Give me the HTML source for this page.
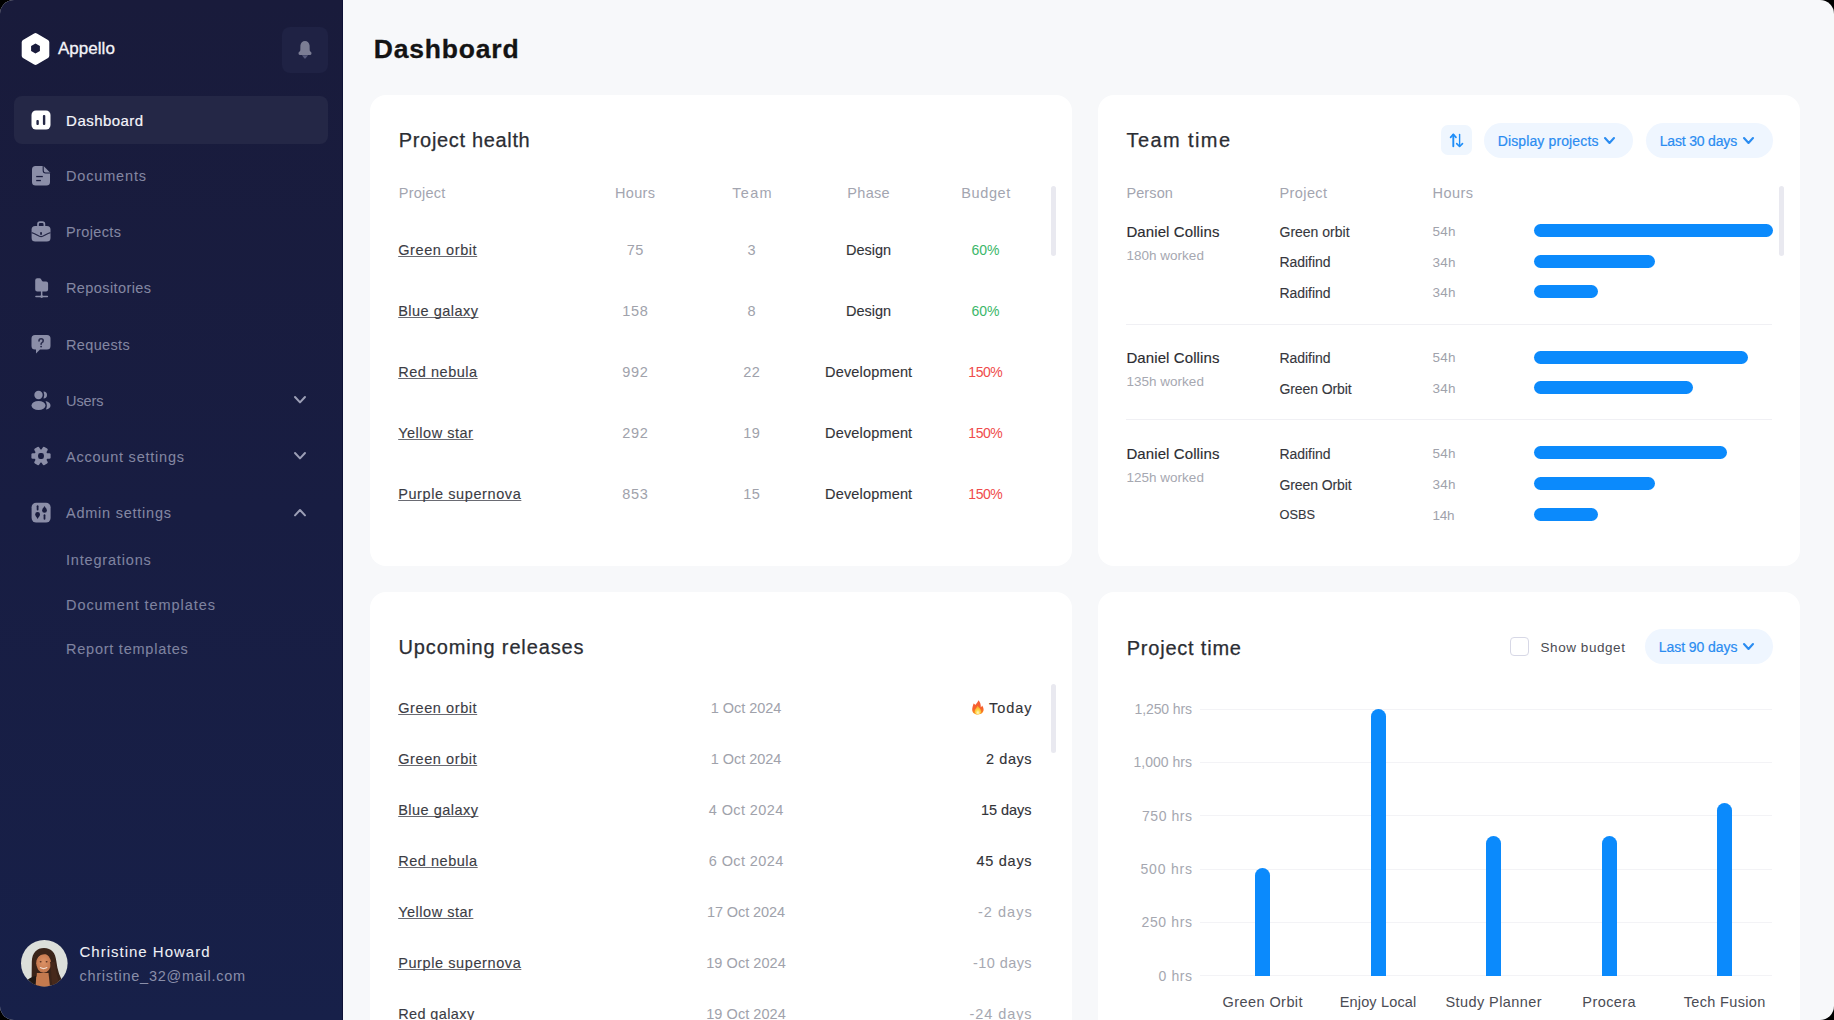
<!DOCTYPE html>
<html><head><meta charset="utf-8"><style>
html,body{margin:0;padding:0;background:#000;}
body{width:1834px;height:1020px;overflow:hidden;font-family:"Liberation Sans",sans-serif;}
#app{position:absolute;left:0;top:0;width:1834px;height:1020px;background:#f7f8fa;border-radius:14px;overflow:hidden;}
.sb{position:absolute;left:0;top:0;width:343px;height:1020px;background:linear-gradient(180deg,#191b3b 0%,#181d42 50%,#172049 100%);box-shadow:inset -1px 0 0 #0e1236;}
.t{position:absolute;white-space:nowrap;}
.r{position:absolute;}
.ic{position:absolute;overflow:visible;}
</style></head><body><div id="app">
<div class="sb"></div>
<svg class="ic" style="left:21px;top:32px" width="30" height="34" viewBox="0 0 30 34">
<path fill-rule="evenodd" d="M15.9 1.5 L27 7.9 Q28.3 8.7 28.3 10.2 L28.3 23.8 Q28.3 25.3 27 26.1 L15.9 32.5 Q14.5 33.3 13.1 32.5 L2 26.1 Q0.7 25.3 0.7 23.8 L0.7 10.2 Q0.7 8.7 2 7.9 L13.1 1.5 Q14.5 0.7 15.9 1.5Z M14.5 11.4 L18.9 13.9 L18.9 19.1 L14.5 21.6 L10.1 19.1 L10.1 13.9Z" fill="#fff"/>
</svg>
<div class="t" style="left:57.90px;top:40.41px;font-size:17px;line-height:17px;color:#f4f4f8;letter-spacing:0.050px;-webkit-text-stroke:0.3px #f4f4f8;">Appello</div>
<div class="r" style="left:282px;top:27px;width:46px;height:46px;background:#1f2244;border-radius:8px;"></div>
<svg class="ic" style="left:297px;top:40px" width="16" height="20" viewBox="0 0 16 20">
<path d="M8 0.9 C5.6 0.9 3.6 2.6 3.4 5.5 L3.3 10.2 Q3.2 11.2 2.2 11.8 Q1.4 12.3 1.5 13.4 Q1.6 14.9 3.2 15 L12.8 15 Q14.4 14.9 14.5 13.4 Q14.6 12.3 13.8 11.8 Q12.8 11.2 12.7 10.2 L12.6 5.5 C12.4 2.6 10.4 0.9 8 0.9Z" fill="#7b7d94"/>
<path d="M4.9 15.2 L11.1 15.2 L8.7 18.3 Q8 19.1 7.3 18.3Z" fill="#55587a"/>
</svg>
<div class="r" style="left:14px;top:96px;width:314px;height:48px;background:#242746;border-radius:8px;"></div>
<svg class="ic" style="left:31px;top:110px" width="20" height="20" viewBox="0 0 20 20">
<rect x="0.5" y="0.5" width="19" height="19" rx="4.5" fill="#fff"/>
<rect x="5.4" y="10" width="2.4" height="5" rx="1" fill="#242746"/>
<rect x="11.9" y="5" width="2.4" height="10" rx="1" fill="#242746"/>
</svg>
<div class="t" style="left:66.10px;top:112.80px;font-size:15px;line-height:15px;color:#f5f5fa;letter-spacing:0.462px;-webkit-text-stroke:0.2px #f5f5fa;">Dashboard</div>
<div class="t" style="left:66.00px;top:169.43px;font-size:14.5px;line-height:14.5px;color:#8487a2;letter-spacing:0.838px;-webkit-text-stroke:0.05px #8487a2;">Documents</div>
<div class="t" style="left:66.00px;top:225.13px;font-size:14.5px;line-height:14.5px;color:#8487a2;letter-spacing:0.371px;-webkit-text-stroke:0.05px #8487a2;">Projects</div>
<div class="t" style="left:66.00px;top:281.13px;font-size:14.5px;line-height:14.5px;color:#8487a2;letter-spacing:0.400px;-webkit-text-stroke:0.05px #8487a2;">Repositories</div>
<div class="t" style="left:66.00px;top:337.63px;font-size:14.5px;line-height:14.5px;color:#8487a2;letter-spacing:0.343px;-webkit-text-stroke:0.05px #8487a2;">Requests</div>
<div class="t" style="left:66.00px;top:393.93px;font-size:14.5px;line-height:14.5px;color:#8487a2;letter-spacing:-0.075px;-webkit-text-stroke:0.05px #8487a2;">Users</div>
<div class="t" style="left:66.00px;top:449.73px;font-size:14.5px;line-height:14.5px;color:#8487a2;letter-spacing:0.773px;-webkit-text-stroke:0.05px #8487a2;">Account settings</div>
<div class="t" style="left:66.00px;top:506.03px;font-size:14.5px;line-height:14.5px;color:#8487a2;letter-spacing:0.762px;-webkit-text-stroke:0.05px #8487a2;">Admin settings</div>
<div class="t" style="left:66.00px;top:553.03px;font-size:14.5px;line-height:14.5px;color:#7f83a0;letter-spacing:0.818px;-webkit-text-stroke:0.1px #7f83a0;">Integrations</div>
<div class="t" style="left:66.00px;top:597.63px;font-size:14.5px;line-height:14.5px;color:#7f83a0;letter-spacing:0.941px;-webkit-text-stroke:0.1px #7f83a0;">Document templates</div>
<div class="t" style="left:66.00px;top:641.53px;font-size:14.5px;line-height:14.5px;color:#7f83a0;letter-spacing:0.760px;-webkit-text-stroke:0.1px #7f83a0;">Report templates</div>
<svg class="ic" style="left:32px;top:166px" width="18" height="20" viewBox="0 0 18 20">
<path d="M3.6 0 L11.6 0 L18 6.4 L18 16 Q18 19.6 14.4 19.6 L3.6 19.6 Q0 19.6 0 16 L0 3.6 Q0 0 3.6 0Z" fill="#8b8ea8"/>
<path d="M11.2 -0.3 L11.2 4.6 Q11.2 7 13.6 7 L18.3 7" fill="none" stroke="#191c3e" stroke-width="1.1"/>
<rect x="4.2" y="9.9" width="6.6" height="1.3" fill="#191c3e"/>
<rect x="4.2" y="13.9" width="4.7" height="1.3" fill="#191c3e"/>
</svg>
<svg class="ic" style="left:31px;top:221px" width="20" height="21" viewBox="0 0 20 21">
<path d="M7 5.2 L7 3.2 Q7 1.2 9 1.2 L11.4 1.2 Q13.4 1.2 13.4 3.2 L13.4 5.2" fill="none" stroke="#8b8ea8" stroke-width="1.7"/>
<rect x="0.6" y="4.9" width="18.9" height="15.7" rx="3.6" fill="#8b8ea8"/>
<path d="M0.6 11.6 C5 12.8 7.6 15.6 10.05 15.6 C12.5 15.6 15.1 12.8 19.5 11.6" fill="none" stroke="#232646" stroke-width="1.3"/>
<rect x="9.1" y="10.9" width="1.9" height="3" rx="0.9" fill="#232646"/>
</svg>
<svg class="ic" style="left:34.6px;top:278.2px" width="14" height="21" viewBox="0 0 14 21">
<path d="M2.2 0.3 L4.6 0.3 Q5.6 0.3 6.1 1.2 L6.8 2.6 Q7.2 3.5 8.2 3.5 L11.1 3.5 Q13.1 3.5 13.1 5.5 L13.1 11.6 Q13.1 13.6 11.1 13.6 L2.2 13.6 Q0.2 13.6 0.2 11.6 L0.2 2.3 Q0.2 0.3 2.2 0.3Z" fill="#8b8ea8"/>
<rect x="5.9" y="13" width="1.5" height="5.2" fill="#8b8ea8"/>
<rect x="0.2" y="17.8" width="12.9" height="1.5" rx="0.75" fill="#8b8ea8"/>
<circle cx="6.65" cy="18.55" r="1.35" fill="#8b8ea8"/>
</svg>
<svg class="ic" style="left:31px;top:334px" width="20" height="21" viewBox="0 0 20 21">
<path d="M4 1 L16 1 Q19.5 1 19.5 4.5 L19.5 12 Q19.5 15.5 16 15.5 L9 15.5 L5 19.5 L5 15.5 L4 15.5 Q0.5 15.5 0.5 12 L0.5 4.5 Q0.5 1 4 1Z" fill="#8b8ea8"/>
<path d="M8 7 Q8 4.8 10.1 4.8 Q12.2 4.8 12.2 6.8 Q12.2 8 11 8.6 Q10.1 9.1 10.1 10.2" fill="none" stroke="#2a2d4d" stroke-width="1.6" stroke-linecap="round"/><circle cx="10.1" cy="12.6" r="0.95" fill="#2a2d4d"/>
</svg>
<svg class="ic" style="left:31px;top:390px" width="20" height="21" viewBox="0 0 20 21">
<circle cx="7.5" cy="5" r="4.2" fill="#8b8ea8"/>
<ellipse cx="7.5" cy="15.5" rx="7" ry="4.5" fill="#8b8ea8"/>
<path d="M12.5 1.5 Q16 1.8 16 5 Q16 8.2 12.5 8.5 Q14 5 12.5 1.5Z" fill="#8b8ea8"/>
<path d="M14.5 11 Q19.5 12 19.5 15.5 Q19.5 18.5 15 19.5 Q17 15.5 14.5 11Z" fill="#8b8ea8"/>
</svg>
<svg class="ic" style="left:31px;top:446.3px" width="20" height="20" viewBox="0 0 20 20">
<g fill="#8b8ea8"><circle cx="10" cy="10" r="6.6"/><rect x="7.2" y="0.4" width="5.6" height="6" rx="1.3" transform="rotate(30 10 10)"/><rect x="7.2" y="0.4" width="5.6" height="6" rx="1.3" transform="rotate(90 10 10)"/><rect x="7.2" y="0.4" width="5.6" height="6" rx="1.3" transform="rotate(150 10 10)"/><rect x="7.2" y="0.4" width="5.6" height="6" rx="1.3" transform="rotate(210 10 10)"/><rect x="7.2" y="0.4" width="5.6" height="6" rx="1.3" transform="rotate(270 10 10)"/><rect x="7.2" y="0.4" width="5.6" height="6" rx="1.3" transform="rotate(330 10 10)"/></g>
<rect x="7.1" y="7.1" width="5.8" height="5.8" rx="2.2" fill="#191d40"/>
</svg>
<svg class="ic" style="left:31px;top:502px" width="20" height="21" viewBox="0 0 20 21">
<rect x="0.6" y="0.7" width="19" height="19.8" rx="4.6" fill="#8b8ea8"/>
<g fill="#191c3e" stroke="#191c3e" stroke-linecap="round">
<line x1="6.6" y1="4.2" x2="6.6" y2="7.6" stroke-width="1.8"/><circle cx="6.6" cy="12.5" r="2.4" stroke="none"/><path d="M4.6 13.6 L6.6 17 L8.6 13.6Z" stroke="none"/>
<line x1="13.5" y1="13.2" x2="13.5" y2="16.8" stroke-width="1.8"/><circle cx="13.5" cy="8.4" r="2.4" stroke="none"/><path d="M11.5 7.3 L13.5 4 L15.5 7.3Z" stroke="none"/>
</g></svg>
<svg class="ic" style="left:293.6px;top:396.3px" width="12" height="7.4" viewBox="0 0 12 7.4"><path d="M1 1 L6.0 6.4 L11 1" fill="none" stroke="#9c9fb6" stroke-width="2" stroke-linecap="round" stroke-linejoin="round"/></svg>
<svg class="ic" style="left:293.6px;top:452.4px" width="12" height="7.4" viewBox="0 0 12 7.4"><path d="M1 1 L6.0 6.4 L11 1" fill="none" stroke="#9c9fb6" stroke-width="2" stroke-linecap="round" stroke-linejoin="round"/></svg>
<svg class="ic" style="left:293.6px;top:509.2px" width="12" height="7.4" viewBox="0 0 12 7.4"><path d="M1 6.4 L6.0 1 L11 6.4" fill="none" stroke="#9c9fb6" stroke-width="2" stroke-linecap="round" stroke-linejoin="round"/></svg>
<svg class="ic" style="left:20.6px;top:939.5px" width="47" height="47" viewBox="0 0 47 47">
<defs><clipPath id="av"><circle cx="23.3" cy="23.3" r="23.3"/></clipPath>
<radialGradient id="fc" cx="0.5" cy="0.45" r="0.6"><stop offset="0" stop-color="#dc9266"/><stop offset="1" stop-color="#c0744a"/></radialGradient></defs>
<g clip-path="url(#av)">
<rect width="47" height="47" fill="#dcdfda"/>
<path d="M10.5 47 L10.8 22 C11 12.5 16 8 23 8 C30.5 8 34.5 13 35.3 21 C36.3 30 39 38 43.5 44 L42 47Z" fill="#3a2419"/>
<path d="M2 47 C4 40 9 37.5 15 36 L19 47Z" fill="#1f1815"/>
<path d="M14.5 47 L15.5 33 L27.5 33 L29 47Z" fill="#c47a4e"/>
<ellipse cx="22.6" cy="23.2" rx="7.4" ry="9.6" fill="url(#fc)"/>
<path d="M14.8 21 C14.6 13.5 18 11 23 11 C28 11 31 14 31 21 C29.3 15.5 26.5 14 23.2 14.2 C19.5 14.4 16.5 16.5 14.8 21Z" fill="#3a2419"/>
<path d="M29 22 C30.5 30 30 38 31.5 47 L39 47 C37 39 34.5 31 33.8 22Z" fill="#46291b"/>
<path d="M13 24 C12.5 30 13 34 15.5 37 L16.2 27Z" fill="#3a2419"/>
<path d="M19.4 27.6 Q22.6 29.6 25.8 27.6" stroke="#f1dccf" stroke-width="1.2" fill="none" stroke-linecap="round"/>
<ellipse cx="19.6" cy="21.8" rx="1" ry="0.7" fill="#5a3322"/><ellipse cx="25.6" cy="21.8" rx="1" ry="0.7" fill="#5a3322"/>
</g></svg>
<div class="t" style="left:79.50px;top:943.60px;font-size:15px;line-height:15px;color:#f0f1f6;letter-spacing:1.000px;-webkit-text-stroke:0.05px #f0f1f6;">Christine Howard</div>
<div class="t" style="left:79.50px;top:968.53px;font-size:14.5px;line-height:14.5px;color:#8a8ea9;letter-spacing:0.735px;">christine_32@mail.com</div>
<div class="t" style="left:373.80px;top:36.47px;font-size:26.5px;line-height:26.5px;color:#141414;letter-spacing:0.800px;font-weight:700;-webkit-text-stroke:0.3px #141414;">Dashboard</div>
<div class="r" style="left:370px;top:95px;width:702px;height:471px;background:#fff;border-radius:16px;"></div>
<div class="r" style="left:1098px;top:95px;width:702px;height:471px;background:#fff;border-radius:16px;"></div>
<div class="r" style="left:370px;top:592px;width:702px;height:460px;background:#fff;border-radius:16px;"></div>
<div class="r" style="left:1098px;top:592px;width:702px;height:460px;background:#fff;border-radius:16px;"></div>
<div class="t" style="left:398.75px;top:130.17px;font-size:20px;line-height:20px;color:#2b2d33;letter-spacing:0.669px;-webkit-text-stroke:0.25px #2b2d33;">Project health</div>
<div class="t" style="left:398.75px;top:185.63px;font-size:14.5px;line-height:14.5px;color:#a3a5b0;letter-spacing:0.250px;">Project</div>
<div class="t" style="left:615.00px;top:185.63px;font-size:14.5px;line-height:14.5px;color:#a3a5b0;letter-spacing:0.325px;">Hours</div>
<div class="t" style="left:732.35px;top:185.63px;font-size:14.5px;line-height:14.5px;color:#a3a5b0;letter-spacing:1.267px;">Team</div>
<div class="t" style="left:847.35px;top:185.63px;font-size:14.5px;line-height:14.5px;color:#a3a5b0;letter-spacing:0.300px;">Phase</div>
<div class="t" style="left:961.30px;top:185.63px;font-size:14.5px;line-height:14.5px;color:#a3a5b0;letter-spacing:0.600px;">Budget</div>
<div class="t" style="left:398.20px;top:242.53px;font-size:14.5px;line-height:14.5px;color:#3b3c44;letter-spacing:0.590px;-webkit-text-stroke:0.12px #3b3c44;text-decoration:underline;text-underline-offset:1px;text-decoration-thickness:1px;text-decoration-skip-ink:none;text-decoration-color:#6a6b73;">Green orbit</div>
<div class="t" style="left:626.65px;top:242.53px;font-size:14.5px;line-height:14.5px;color:#a0a2ab;letter-spacing:0.600px;">75</div>
<div class="t" style="left:747.45px;top:242.53px;font-size:14.5px;line-height:14.5px;color:#a0a2ab;letter-spacing:0.600px;">3</div>
<div class="t" style="left:846.10px;top:242.53px;font-size:14.5px;line-height:14.5px;color:#323338;letter-spacing:-0.020px;-webkit-text-stroke:0.12px #323338;">Design</div>
<div class="t" style="left:971.50px;top:242.95px;font-size:14px;line-height:14px;color:#3bb76a;letter-spacing:0.000px;">60%</div>
<div class="t" style="left:398.20px;top:303.63px;font-size:14.5px;line-height:14.5px;color:#3b3c44;letter-spacing:0.480px;-webkit-text-stroke:0.12px #3b3c44;text-decoration:underline;text-underline-offset:1px;text-decoration-thickness:1px;text-decoration-skip-ink:none;text-decoration-color:#6a6b73;">Blue galaxy</div>
<div class="t" style="left:622.30px;top:303.63px;font-size:14.5px;line-height:14.5px;color:#a0a2ab;letter-spacing:0.600px;">158</div>
<div class="t" style="left:747.45px;top:303.63px;font-size:14.5px;line-height:14.5px;color:#a0a2ab;letter-spacing:0.600px;">8</div>
<div class="t" style="left:846.10px;top:303.63px;font-size:14.5px;line-height:14.5px;color:#323338;letter-spacing:-0.020px;-webkit-text-stroke:0.12px #323338;">Design</div>
<div class="t" style="left:971.50px;top:304.05px;font-size:14px;line-height:14px;color:#3bb76a;letter-spacing:0.000px;">60%</div>
<div class="t" style="left:398.20px;top:364.73px;font-size:14.5px;line-height:14.5px;color:#3b3c44;letter-spacing:0.533px;-webkit-text-stroke:0.12px #3b3c44;text-decoration:underline;text-underline-offset:1px;text-decoration-thickness:1px;text-decoration-skip-ink:none;text-decoration-color:#6a6b73;">Red nebula</div>
<div class="t" style="left:622.30px;top:364.73px;font-size:14.5px;line-height:14.5px;color:#a0a2ab;letter-spacing:0.600px;">992</div>
<div class="t" style="left:743.15px;top:364.73px;font-size:14.5px;line-height:14.5px;color:#a0a2ab;letter-spacing:0.600px;">22</div>
<div class="t" style="left:825.10px;top:364.73px;font-size:14.5px;line-height:14.5px;color:#323338;letter-spacing:0.160px;-webkit-text-stroke:0.12px #323338;">Development</div>
<div class="t" style="left:968.35px;top:365.15px;font-size:14px;line-height:14px;color:#ef4b4b;letter-spacing:-0.500px;">150%</div>
<div class="t" style="left:398.20px;top:425.83px;font-size:14.5px;line-height:14.5px;color:#3b3c44;letter-spacing:0.510px;-webkit-text-stroke:0.12px #3b3c44;text-decoration:underline;text-underline-offset:1px;text-decoration-thickness:1px;text-decoration-skip-ink:none;text-decoration-color:#6a6b73;">Yellow star</div>
<div class="t" style="left:622.30px;top:425.83px;font-size:14.5px;line-height:14.5px;color:#a0a2ab;letter-spacing:0.600px;">292</div>
<div class="t" style="left:743.15px;top:425.83px;font-size:14.5px;line-height:14.5px;color:#a0a2ab;letter-spacing:0.600px;">19</div>
<div class="t" style="left:825.10px;top:425.83px;font-size:14.5px;line-height:14.5px;color:#323338;letter-spacing:0.160px;-webkit-text-stroke:0.12px #323338;">Development</div>
<div class="t" style="left:968.35px;top:426.25px;font-size:14px;line-height:14px;color:#ef4b4b;letter-spacing:-0.500px;">150%</div>
<div class="t" style="left:398.20px;top:486.93px;font-size:14.5px;line-height:14.5px;color:#3b3c44;letter-spacing:0.593px;-webkit-text-stroke:0.12px #3b3c44;text-decoration:underline;text-underline-offset:1px;text-decoration-thickness:1px;text-decoration-skip-ink:none;text-decoration-color:#6a6b73;">Purple supernova</div>
<div class="t" style="left:622.30px;top:486.93px;font-size:14.5px;line-height:14.5px;color:#a0a2ab;letter-spacing:0.600px;">853</div>
<div class="t" style="left:743.15px;top:486.93px;font-size:14.5px;line-height:14.5px;color:#a0a2ab;letter-spacing:0.600px;">15</div>
<div class="t" style="left:825.10px;top:486.93px;font-size:14.5px;line-height:14.5px;color:#323338;letter-spacing:0.160px;-webkit-text-stroke:0.12px #323338;">Development</div>
<div class="t" style="left:968.35px;top:487.35px;font-size:14px;line-height:14px;color:#ef4b4b;letter-spacing:-0.500px;">150%</div>
<div class="r" style="left:1051px;top:186px;width:5px;height:70px;background:#e9e9f0;border-radius:3px;"></div>
<div class="t" style="left:1126.50px;top:130.17px;font-size:20px;line-height:20px;color:#2b2d33;letter-spacing:1.412px;-webkit-text-stroke:0.25px #2b2d33;">Team time</div>
<div class="r" style="left:1441px;top:125px;width:31px;height:30px;background:#eff6fe;border-radius:7px;"></div>
<svg class="ic" style="left:1449px;top:133px" width="15" height="15" viewBox="0 0 15 15">
<g fill="none" stroke="#1f8ef8" stroke-linecap="round" stroke-linejoin="round">
<path d="M4.3 13.3 L4.3 1.6" stroke-width="1.9"/><path d="M1.6 4.3 L4.3 1.4 L7 4.3" stroke-width="1.7"/><path d="M10.6 1.4 L10.6 13.3" stroke-width="1.4"/><path d="M7.7 10.6 L10.6 13.5 L13.5 10.6" stroke-width="1.6"/></g></svg>
<div class="r" style="left:1484px;top:122.5px;width:149px;height:35.5px;background:#eff6ff;border-radius:18px;"></div>
<div class="t" style="left:1497.70px;top:134.35px;font-size:14px;line-height:14px;color:#2a8cf1;letter-spacing:0.127px;-webkit-text-stroke:0.2px #2a8cf1;">Display projects</div>
<svg class="ic" style="left:1603.5px;top:137.3px" width="11" height="7" viewBox="0 0 11 7"><path d="M1 1 L5.5 6 L10 1" fill="none" stroke="#2a8cf1" stroke-width="2.1" stroke-linecap="round" stroke-linejoin="round"/></svg>
<div class="r" style="left:1646px;top:122.5px;width:126.5px;height:35.5px;background:#eff6ff;border-radius:18px;"></div>
<div class="t" style="left:1659.70px;top:134.35px;font-size:14px;line-height:14px;color:#2a8cf1;letter-spacing:-0.173px;-webkit-text-stroke:0.2px #2a8cf1;">Last 30 days</div>
<svg class="ic" style="left:1742.5px;top:137.3px" width="11" height="7" viewBox="0 0 11 7"><path d="M1 1 L5.5 6 L10 1" fill="none" stroke="#2a8cf1" stroke-width="2.1" stroke-linecap="round" stroke-linejoin="round"/></svg>
<div class="t" style="left:1126.40px;top:186.13px;font-size:14.5px;line-height:14.5px;color:#a3a5b0;letter-spacing:0.120px;">Person</div>
<div class="t" style="left:1279.50px;top:186.13px;font-size:14.5px;line-height:14.5px;color:#a3a5b0;letter-spacing:0.400px;">Project</div>
<div class="t" style="left:1432.60px;top:186.13px;font-size:14.5px;line-height:14.5px;color:#a3a5b0;letter-spacing:0.450px;">Hours</div>
<div class="t" style="left:1126.40px;top:223.80px;font-size:15px;line-height:15px;color:#2b2c31;letter-spacing:0.100px;-webkit-text-stroke:0.15px #2b2c31;">Daniel Collins</div>
<div class="t" style="left:1126.40px;top:249.07px;font-size:13.5px;line-height:13.5px;color:#a6a8b1;letter-spacing:0.020px;">180h worked</div>
<div class="t" style="left:1279.50px;top:224.65px;font-size:14px;line-height:14px;color:#36373d;letter-spacing:0.000px;-webkit-text-stroke:0.12px #36373d;">Green orbit</div>
<div class="t" style="left:1432.60px;top:225.07px;font-size:13.5px;line-height:13.5px;color:#a0a2ab;letter-spacing:0.250px;">54h</div>
<div class="r" style="left:1534px;top:224.1px;width:238.5px;height:13px;background:#0b8afc;border-radius:6.5px;"></div>
<div class="t" style="left:1279.50px;top:255.25px;font-size:14px;line-height:14px;color:#36373d;letter-spacing:-0.057px;-webkit-text-stroke:0.12px #36373d;">Radifind</div>
<div class="t" style="left:1432.60px;top:255.67px;font-size:13.5px;line-height:13.5px;color:#a0a2ab;letter-spacing:0.250px;">34h</div>
<div class="r" style="left:1534px;top:254.7px;width:121.09999999999991px;height:13px;background:#0b8afc;border-radius:6.5px;"></div>
<div class="t" style="left:1279.50px;top:285.85px;font-size:14px;line-height:14px;color:#36373d;letter-spacing:-0.057px;-webkit-text-stroke:0.12px #36373d;">Radifind</div>
<div class="t" style="left:1432.60px;top:286.27px;font-size:13.5px;line-height:13.5px;color:#a0a2ab;letter-spacing:0.250px;">34h</div>
<div class="r" style="left:1534px;top:285.3px;width:64px;height:13px;background:#0b8afc;border-radius:6.5px;"></div>
<div class="t" style="left:1126.40px;top:350.20px;font-size:15px;line-height:15px;color:#2b2c31;letter-spacing:0.100px;-webkit-text-stroke:0.15px #2b2c31;">Daniel Collins</div>
<div class="t" style="left:1126.40px;top:375.47px;font-size:13.5px;line-height:13.5px;color:#a6a8b1;letter-spacing:0.020px;">135h worked</div>
<div class="t" style="left:1279.50px;top:351.05px;font-size:14px;line-height:14px;color:#36373d;letter-spacing:-0.057px;-webkit-text-stroke:0.12px #36373d;">Radifind</div>
<div class="t" style="left:1432.60px;top:351.47px;font-size:13.5px;line-height:13.5px;color:#a0a2ab;letter-spacing:0.250px;">54h</div>
<div class="r" style="left:1534px;top:350.5px;width:214px;height:13px;background:#0b8afc;border-radius:6.5px;"></div>
<div class="t" style="left:1279.50px;top:381.65px;font-size:14px;line-height:14px;color:#36373d;letter-spacing:-0.110px;-webkit-text-stroke:0.12px #36373d;">Green Orbit</div>
<div class="t" style="left:1432.60px;top:382.07px;font-size:13.5px;line-height:13.5px;color:#a0a2ab;letter-spacing:0.250px;">34h</div>
<div class="r" style="left:1534px;top:381.1px;width:159.20000000000005px;height:13px;background:#0b8afc;border-radius:6.5px;"></div>
<div class="t" style="left:1126.40px;top:446.10px;font-size:15px;line-height:15px;color:#2b2c31;letter-spacing:0.100px;-webkit-text-stroke:0.15px #2b2c31;">Daniel Collins</div>
<div class="t" style="left:1126.40px;top:471.37px;font-size:13.5px;line-height:13.5px;color:#a6a8b1;letter-spacing:0.020px;">125h worked</div>
<div class="t" style="left:1279.50px;top:446.95px;font-size:14px;line-height:14px;color:#36373d;letter-spacing:-0.057px;-webkit-text-stroke:0.12px #36373d;">Radifind</div>
<div class="t" style="left:1432.60px;top:447.37px;font-size:13.5px;line-height:13.5px;color:#a0a2ab;letter-spacing:0.250px;">54h</div>
<div class="r" style="left:1534px;top:446.4px;width:193px;height:13px;background:#0b8afc;border-radius:6.5px;"></div>
<div class="t" style="left:1279.50px;top:477.55px;font-size:14px;line-height:14px;color:#36373d;letter-spacing:-0.110px;-webkit-text-stroke:0.12px #36373d;">Green Orbit</div>
<div class="t" style="left:1432.60px;top:477.97px;font-size:13.5px;line-height:13.5px;color:#a0a2ab;letter-spacing:0.250px;">34h</div>
<div class="r" style="left:1534px;top:477.0px;width:121.09999999999991px;height:13px;background:#0b8afc;border-radius:6.5px;"></div>
<div class="t" style="left:1279.50px;top:509.16px;font-size:12.8px;line-height:12.8px;color:#36373d;letter-spacing:0.000px;-webkit-text-stroke:0.12px #36373d;">OSBS</div>
<div class="t" style="left:1432.60px;top:508.57px;font-size:13.5px;line-height:13.5px;color:#a0a2ab;letter-spacing:-0.300px;">14h</div>
<div class="r" style="left:1534px;top:507.6px;width:64px;height:13px;background:#0b8afc;border-radius:6.5px;"></div>
<div class="r" style="left:1126px;top:323.5px;width:646px;height:1px;background:#f0f0f4;border-radius:0px;"></div>
<div class="r" style="left:1126px;top:419.3px;width:646px;height:1px;background:#f0f0f4;border-radius:0px;"></div>
<div class="r" style="left:1779px;top:186px;width:4.5px;height:70px;background:#e9e9f0;border-radius:3px;"></div>
<div class="t" style="left:398.50px;top:636.87px;font-size:20px;line-height:20px;color:#2b2d33;letter-spacing:0.863px;-webkit-text-stroke:0.25px #2b2d33;">Upcoming releases</div>
<div class="t" style="left:398.20px;top:701.43px;font-size:14.5px;line-height:14.5px;color:#3b3c44;letter-spacing:0.590px;-webkit-text-stroke:0.12px #3b3c44;text-decoration:underline;text-underline-offset:1px;text-decoration-thickness:1px;text-decoration-skip-ink:none;text-decoration-color:#6a6b73;">Green orbit</div>
<div class="t" style="left:710.80px;top:701.43px;font-size:14.5px;line-height:14.5px;color:#a0a2ab;letter-spacing:-0.056px;">1 Oct 2024</div>
<div class="t" style="left:989.00px;top:701.43px;font-size:14.5px;line-height:14.5px;color:#323338;letter-spacing:0.975px;-webkit-text-stroke:0.12px #323338;">Today</div>
<div class="t" style="left:398.20px;top:752.43px;font-size:14.5px;line-height:14.5px;color:#3b3c44;letter-spacing:0.590px;-webkit-text-stroke:0.12px #3b3c44;text-decoration:underline;text-underline-offset:1px;text-decoration-thickness:1px;text-decoration-skip-ink:none;text-decoration-color:#6a6b73;">Green orbit</div>
<div class="t" style="left:710.80px;top:752.43px;font-size:14.5px;line-height:14.5px;color:#a0a2ab;letter-spacing:-0.056px;">1 Oct 2024</div>
<div class="t" style="left:986.00px;top:752.43px;font-size:14.5px;line-height:14.5px;color:#323338;letter-spacing:0.580px;-webkit-text-stroke:0.12px #323338;">2 days</div>
<div class="t" style="left:398.20px;top:803.43px;font-size:14.5px;line-height:14.5px;color:#3b3c44;letter-spacing:0.480px;-webkit-text-stroke:0.12px #3b3c44;text-decoration:underline;text-underline-offset:1px;text-decoration-thickness:1px;text-decoration-skip-ink:none;text-decoration-color:#6a6b73;">Blue galaxy</div>
<div class="t" style="left:708.75px;top:803.43px;font-size:14.5px;line-height:14.5px;color:#a0a2ab;letter-spacing:0.400px;">4 Oct 2024</div>
<div class="t" style="left:980.90px;top:803.43px;font-size:14.5px;line-height:14.5px;color:#323338;letter-spacing:-0.017px;-webkit-text-stroke:0.12px #323338;">15 days</div>
<div class="t" style="left:398.20px;top:854.43px;font-size:14.5px;line-height:14.5px;color:#3b3c44;letter-spacing:0.533px;-webkit-text-stroke:0.12px #3b3c44;text-decoration:underline;text-underline-offset:1px;text-decoration-thickness:1px;text-decoration-skip-ink:none;text-decoration-color:#6a6b73;">Red nebula</div>
<div class="t" style="left:708.75px;top:854.43px;font-size:14.5px;line-height:14.5px;color:#a0a2ab;letter-spacing:0.400px;">6 Oct 2024</div>
<div class="t" style="left:976.60px;top:854.43px;font-size:14.5px;line-height:14.5px;color:#323338;letter-spacing:0.700px;-webkit-text-stroke:0.12px #323338;">45 days</div>
<div class="t" style="left:398.20px;top:905.43px;font-size:14.5px;line-height:14.5px;color:#3b3c44;letter-spacing:0.510px;-webkit-text-stroke:0.12px #3b3c44;text-decoration:underline;text-underline-offset:1px;text-decoration-thickness:1px;text-decoration-skip-ink:none;text-decoration-color:#6a6b73;">Yellow star</div>
<div class="t" style="left:707.00px;top:905.43px;font-size:14.5px;line-height:14.5px;color:#a0a2ab;letter-spacing:-0.100px;">17 Oct 2024</div>
<div class="t" style="left:978.00px;top:905.43px;font-size:14.5px;line-height:14.5px;color:#a6a8b1;letter-spacing:1.017px;">-2 days</div>
<div class="t" style="left:398.20px;top:956.43px;font-size:14.5px;line-height:14.5px;color:#3b3c44;letter-spacing:0.593px;-webkit-text-stroke:0.12px #3b3c44;text-decoration:underline;text-underline-offset:1px;text-decoration-thickness:1px;text-decoration-skip-ink:none;text-decoration-color:#6a6b73;">Purple supernova</div>
<div class="t" style="left:706.25px;top:956.43px;font-size:14.5px;line-height:14.5px;color:#a0a2ab;letter-spacing:0.050px;">19 Oct 2024</div>
<div class="t" style="left:973.00px;top:956.43px;font-size:14.5px;line-height:14.5px;color:#a6a8b1;letter-spacing:0.429px;">-10 days</div>
<div class="t" style="left:398.20px;top:1007.43px;font-size:14.5px;line-height:14.5px;color:#3b3c44;letter-spacing:0.378px;-webkit-text-stroke:0.12px #3b3c44;text-decoration:underline;text-underline-offset:1px;text-decoration-thickness:1px;text-decoration-skip-ink:none;text-decoration-color:#6a6b73;">Red galaxy</div>
<div class="t" style="left:706.25px;top:1007.43px;font-size:14.5px;line-height:14.5px;color:#a0a2ab;letter-spacing:0.050px;">19 Oct 2024</div>
<div class="t" style="left:969.60px;top:1007.43px;font-size:14.5px;line-height:14.5px;color:#a6a8b1;letter-spacing:0.914px;">-24 days</div>
<svg class="ic" style="left:971.6px;top:699.6px" width="12" height="15" viewBox="0 0 12 15">
<defs><linearGradient id="fl" x1="0" y1="0" x2="0" y2="1"><stop offset="0" stop-color="#f45d3c"/><stop offset="0.6" stop-color="#f7612a"/><stop offset="1" stop-color="#fa9a1c"/></linearGradient>
<radialGradient id="fi" cx="0.5" cy="0.8" r="0.7"><stop offset="0" stop-color="#fff8d0"/><stop offset="0.45" stop-color="#fdd84a"/><stop offset="1" stop-color="#f9a425"/></radialGradient></defs>
<path d="M6.5 0.3 C5.6 2.5 4.2 3.8 3.3 5 C2.8 4.2 2.1 3.8 1.6 3.6 C1.2 5.3 0.2 7.5 0.2 9.7 C0.2 12.8 2.8 14.5 5.8 14.5 C9 14.5 11.6 12.8 11.6 9.6 C11.6 7.8 10.8 6.4 10 5.4 C9.8 6.3 9.3 7 8.8 7.3 C9 4.5 8.1 2 6.5 0.3Z" fill="url(#fl)"/>
<path d="M5.8 14.4 C3.4 14.4 2.3 12.6 2.8 10.6 C3.3 8.8 4.8 7.6 5.5 5.8 C6.8 7.4 9.1 9.2 9.1 11.5 C9.1 13.2 7.7 14.4 5.8 14.4Z" fill="url(#fi)"/>
</svg>
<div class="r" style="left:1051px;top:683.7px;width:5px;height:69px;background:#e9e9f0;border-radius:3px;"></div>
<div class="t" style="left:1126.70px;top:637.67px;font-size:20px;line-height:20px;color:#2b2d33;letter-spacing:0.791px;-webkit-text-stroke:0.25px #2b2d33;">Project time</div>
<div class="r" style="left:1510px;top:636.5px;width:17px;height:17px;border:1.5px solid #d7d8e6;border-radius:4px;background:#fff"></div>
<div class="t" style="left:1540.50px;top:640.67px;font-size:13.5px;line-height:13.5px;color:#4a4b52;letter-spacing:0.560px;">Show budget</div>
<div class="r" style="left:1645px;top:628.8px;width:127.5px;height:35.3px;background:#eff6ff;border-radius:18px;"></div>
<div class="t" style="left:1658.80px;top:640.25px;font-size:14px;line-height:14px;color:#2a8cf1;letter-spacing:-0.073px;-webkit-text-stroke:0.2px #2a8cf1;">Last 90 days</div>
<svg class="ic" style="left:1742.8px;top:643.3px" width="11" height="7" viewBox="0 0 11 7"><path d="M1 1 L5.5 6 L10 1" fill="none" stroke="#2a8cf1" stroke-width="2.1" stroke-linecap="round" stroke-linejoin="round"/></svg>
<div class="t" style="left:1134.50px;top:702.05px;font-size:14px;line-height:14px;color:#a5a7b0;letter-spacing:-0.112px;">1,250 hrs</div>
<div class="r" style="left:1200px;top:708.7px;width:572px;height:1px;background:#f3f3f6;border-radius:0px;"></div>
<div class="t" style="left:1133.50px;top:755.38px;font-size:14px;line-height:14px;color:#a5a7b0;letter-spacing:0.013px;">1,000 hrs</div>
<div class="r" style="left:1200px;top:762.0px;width:572px;height:1px;background:#f3f3f6;border-radius:0px;"></div>
<div class="t" style="left:1142.00px;top:808.71px;font-size:14px;line-height:14px;color:#a5a7b0;letter-spacing:0.550px;">750 hrs</div>
<div class="r" style="left:1200px;top:815.4px;width:572px;height:1px;background:#f3f3f6;border-radius:0px;"></div>
<div class="t" style="left:1140.50px;top:862.04px;font-size:14px;line-height:14px;color:#a5a7b0;letter-spacing:0.800px;">500 hrs</div>
<div class="r" style="left:1200px;top:868.7px;width:572px;height:1px;background:#f3f3f6;border-radius:0px;"></div>
<div class="t" style="left:1141.50px;top:915.37px;font-size:14px;line-height:14px;color:#a5a7b0;letter-spacing:0.633px;">250 hrs</div>
<div class="r" style="left:1200px;top:922.0px;width:572px;height:1px;background:#f3f3f6;border-radius:0px;"></div>
<div class="t" style="left:1158.50px;top:968.70px;font-size:14px;line-height:14px;color:#a5a7b0;letter-spacing:0.600px;">0 hrs</div>
<div class="r" style="left:1200px;top:975.4px;width:572px;height:1px;background:#f3f3f6;border-radius:0px;"></div>
<div class="r" style="left:1255.0px;top:868px;width:15px;height:108px;background:#0b8afc;border-radius:0px;border-radius:7.5px 7.5px 0 0;"></div>
<div class="t" style="left:1222.50px;top:994.53px;font-size:14.5px;line-height:14.5px;color:#4b4c54;letter-spacing:0.430px;">Green Orbit</div>
<div class="r" style="left:1370.5px;top:708.6px;width:15px;height:267.4px;background:#0b8afc;border-radius:0px;border-radius:7.5px 7.5px 0 0;"></div>
<div class="t" style="left:1339.75px;top:994.53px;font-size:14.5px;line-height:14.5px;color:#4b4c54;letter-spacing:0.150px;">Enjoy Local</div>
<div class="r" style="left:1486.0px;top:836px;width:15px;height:140px;background:#0b8afc;border-radius:0px;border-radius:7.5px 7.5px 0 0;"></div>
<div class="t" style="left:1445.50px;top:994.53px;font-size:14.5px;line-height:14.5px;color:#4b4c54;letter-spacing:0.408px;">Study Planner</div>
<div class="r" style="left:1601.5px;top:836px;width:15px;height:140px;background:#0b8afc;border-radius:0px;border-radius:7.5px 7.5px 0 0;"></div>
<div class="t" style="left:1582.30px;top:994.53px;font-size:14.5px;line-height:14.5px;color:#4b4c54;letter-spacing:0.433px;">Procera</div>
<div class="r" style="left:1717.0px;top:802.8px;width:15px;height:173.20000000000005px;background:#0b8afc;border-radius:0px;border-radius:7.5px 7.5px 0 0;"></div>
<div class="t" style="left:1683.65px;top:994.53px;font-size:14.5px;line-height:14.5px;color:#4b4c54;letter-spacing:0.350px;">Tech Fusion</div>
</div></body></html>
